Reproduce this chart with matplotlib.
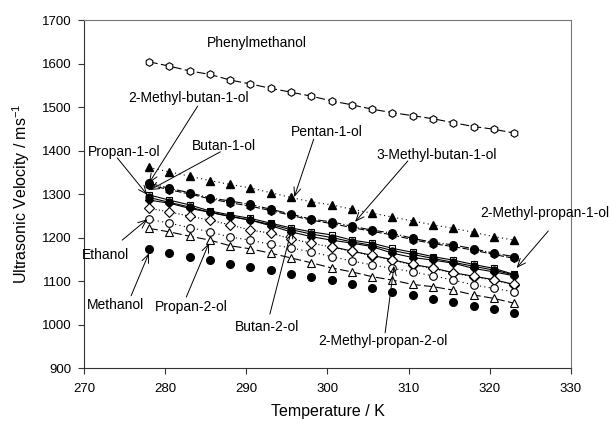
import numpy as np
import matplotlib
matplotlib.use('Agg')
import matplotlib.pyplot as plt

plt.rcParams['font.family'] = ['Liberation Sans', 'DejaVu Sans']
plt.rcParams['mathtext.fontset'] = 'custom'
plt.rcParams['mathtext.rm'] = 'Liberation Sans'

# temperature / K
temp = [278, 280.5, 283, 285.5, 288, 290.5, 293, 295.5, 298, 300.5,
        303, 305.5, 308, 310.5, 313, 315.5, 318, 320.5, 323]

# ultrasonic velocity / m s-1
phenylmethanol = [1604, 1594, 1583, 1575, 1562, 1553, 1543, 1534, 1525, 1514,
                  1505, 1495, 1487, 1480, 1473, 1464, 1455, 1449, 1440]
pentan_1_ol = [1361, 1351, 1341, 1331, 1322, 1314, 1303, 1292, 1282, 1275,
               1265, 1256, 1247, 1238, 1229, 1221, 1212, 1202, 1194]
methyl3_butan_1_ol = [1325, 1313, 1303, 1291, 1284, 1276, 1265, 1254, 1242, 1236,
                      1226, 1217, 1210, 1198, 1189, 1183, 1174, 1164, 1156]
methyl2_butan_1_ol = [1321, 1310, 1300, 1289, 1280, 1272, 1262, 1251, 1240, 1232,
                      1223, 1214, 1206, 1195, 1186, 1179, 1171, 1161, 1152]
butan_1_ol = [1298, 1286, 1275, 1261, 1252, 1244, 1233, 1222, 1213, 1206,
              1194, 1187, 1175, 1166, 1156, 1148, 1138, 1129, 1115]
methyl2_propan_1_ol = [1292, 1281, 1270, 1258, 1249, 1240, 1230, 1218, 1208, 1200,
                       1190, 1182, 1170, 1161, 1152, 1143, 1134, 1125, 1114]
propan_1_ol = [1286, 1279, 1267, 1258, 1248, 1240, 1227, 1213, 1202, 1194,
               1187, 1179, 1164, 1154, 1148, 1141, 1129, 1121, 1112]
butan_2_ol = [1267, 1259, 1249, 1240, 1229, 1217, 1210, 1197, 1187, 1178,
              1168, 1158, 1148, 1137, 1129, 1118, 1110, 1102, 1091]
ethanol = [1242, 1233, 1223, 1213, 1201, 1194, 1184, 1176, 1167, 1156,
           1146, 1137, 1129, 1121, 1112, 1102, 1091, 1083, 1075]
propan_2_ol = [1221, 1213, 1203, 1194, 1181, 1174, 1164, 1153, 1142, 1130,
               1121, 1110, 1102, 1092, 1087, 1079, 1068, 1060, 1049]
methanol = [1173, 1165, 1156, 1148, 1139, 1132, 1125, 1117, 1110, 1102,
            1094, 1084, 1075, 1068, 1059, 1051, 1043, 1036, 1026]
temp_2m2p = [300.5, 303, 305.5, 308, 310.5, 313, 315.5, 318, 320.5, 323]
methyl2_propan_2_ol = [1179, 1169, 1159, 1149, 1138, 1130, 1119, 1111, 1103, 1092]

fig = plt.figure(figsize=(6.11, 4.23), dpi=100)
ax = fig.add_axes([0.1375, 0.13, 0.797, 0.8227])

lw = 0.8
k = 'black'

ax.plot(temp, phenylmethanol, color=k, lw=lw, ls=(0, (8, 3)), marker='h', ms=5.5,
        mfc='white', mec=k, mew=0.8)
ax.plot(temp, pentan_1_ol, color=k, lw=lw, ls=(0, (1, 3)), marker='^', ms=5.5,
        mfc=k, mec=k)
ax.plot(temp, methyl3_butan_1_ol, color=k, lw=lw, ls=(0, (8, 2, 1, 2)), marker='o',
        ms=5.5, mfc=k, mec=k)
ax.plot(temp, methyl2_butan_1_ol, color=k, lw=lw, ls=(0, (6, 2)), marker='h',
        ms=5.5, mfc=k, mec=k)
ax.plot(temp, butan_1_ol, color=k, lw=lw, ls='-', marker='s', ms=5,
        mfc='white', mec=k, mew=0.8)
ax.plot(temp, methyl2_propan_1_ol, color=k, lw=lw, ls='-', marker='o', ms=5,
        mfc=k, mec=k)
ax.plot(temp, propan_1_ol, color=k, lw=lw, ls='-', marker='D', ms=4.5,
        mfc=k, mec=k)
ax.plot(temp, butan_2_ol, color=k, lw=lw, ls=(0, (1, 2)), marker='D', ms=4.8,
        mfc='white', mec=k, mew=0.8)
ax.plot(temp_2m2p, methyl2_propan_2_ol, color=k, lw=lw, ls='-', marker='D', ms=4.8,
        mfc='white', mec=k, mew=0.8)
ax.plot(temp, ethanol, color=k, lw=lw, ls=(0, (1, 3)), marker='o', ms=5.5,
        mfc='white', mec=k, mew=0.8)
ax.plot(temp, propan_2_ol, color=k, lw=lw, ls=(0, (8, 3)), marker='^', ms=5.5,
        mfc='white', mec=k, mew=0.8)
ax.plot(temp, methanol, ls='none', marker='o', ms=5.5, mfc=k, mec=k)

# labels: (text, text position, arrow start, arrow tip)
labels = [
    ('Phenylmethanol', (291.3, 1647), None, None),
    ('2-Methyl-butan-1-ol', (282.9, 1521), (284.0, 1502), (278.0, 1325)),
    ('Propan-1-ol', (274.9, 1397), (274.1, 1383), (277.8, 1298)),
    ('Butan-1-ol', (287.2, 1410), (286.8, 1397), (278.1, 1309)),
    ('Pentan-1-ol', (299.9, 1443), (298.3, 1426), (295.9, 1293)),
    ('3-Methyl-butan-1-ol', (313.4, 1390), (309.9, 1376), (303.4, 1236)),
    ('2-Methyl-propan-1-ol', (326.8, 1256), (327.2, 1215), (323.3, 1130)),
    ('Ethanol', (272.7, 1160), (274.7, 1194), (277.8, 1242)),
    ('Methanol', (273.9, 1045), (275.8, 1066), (278.0, 1164)),
    ('Propan-2-ol', (283.2, 1040), (282.6, 1063), (285.4, 1187)),
    ('Butan-2-ol', (292.5, 995), (292.9, 1024), (295.6, 1220)),
    ('2-Methyl-propan-2-ol', (306.8, 963), (307.1, 981), (308.2, 1135)),
]
for text, pos, start, tip in labels:
    ax.text(pos[0], pos[1], text, fontsize=10, ha='center', va='center',
            clip_on=False)
    if start is not None:
        ax.annotate('', xy=tip, xytext=start,
                    arrowprops=dict(arrowstyle='->,head_length=0.6,head_width=0.25',
                                    color=k, lw=0.7, shrinkA=0, shrinkB=0))

ax.set_xlim(270, 330)
ax.set_ylim(900, 1700)
ax.set_xticks(np.arange(270, 331, 10))
ax.set_yticks(np.arange(900, 1701, 100))
ax.tick_params(direction='out', length=4, width=0.8, labelsize=9.5, color='#333333')
ax.tick_params(axis='x', pad=7)
ax.tick_params(axis='y', pad=5)
for side in ['left', 'bottom']:
    ax.spines[side].set_color('#333333')
for side in ['top', 'right']:
    ax.spines[side].set_color('#777777')
ax.set_xlabel('Temperature / K', fontsize=11.5, labelpad=6)
ax.set_ylabel('Ultrasonic Velocity / ms$^{\\mathregular{-1}}$', fontsize=11.5, labelpad=7)

fig.savefig('out.png', dpi=100)
